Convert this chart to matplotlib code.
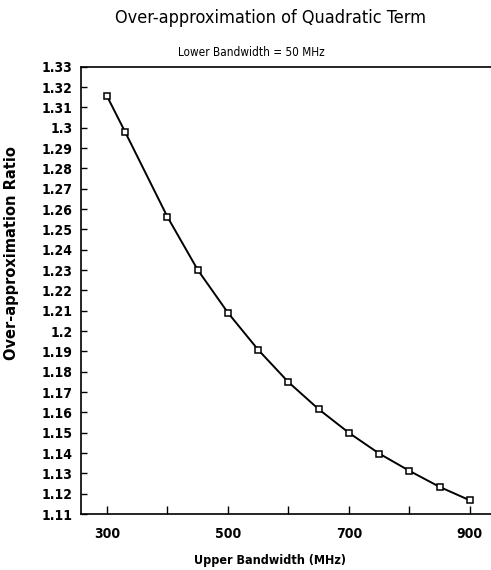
import matplotlib
matplotlib.use("Agg")
import matplotlib.pyplot as plt
from matplotlib import font_manager
from matplotlib.ticker import FixedLocator, FuncFormatter

# upper bandwidth (MHz) vs over-approximation ratio
upper_bw = [300, 330, 400, 450, 500, 550, 600, 650, 700, 750, 800, 850, 900]
ratio = [1.3155, 1.2979, 1.2561, 1.2301, 1.2090, 1.1908, 1.1749,
         1.1616, 1.1500, 1.1398, 1.1313, 1.1234, 1.1168]

x_ticks = [300, 400, 500, 600, 700, 800, 900]
x_labels = {300: "300", 500: "500", 700: "700", 900: "900"}
y_ticks = [round(1.11 + 0.01 * i, 2) for i in range(23)]


def narrow_font(weight):
    # look for any condensed / narrow face that is installed
    cands = []
    for f in font_manager.fontManager.ttflist:
        name = f.name.lower()
        path = f.fname.lower()
        if ("narrow" in name or "condensed" in name or "condensed" in path
                or "narrow" in path or f.stretch in ("condensed", "semi-condensed")):
            if "oblique" in path or "italic" in path:
                continue
            cands.append(f)
    for pref in ["liberation sans narrow", "dejavu sans", "roboto", "noto sans", "open sans"]:
        for f in cands:
            w = f.weight if isinstance(f.weight, int) else (700 if "bold" in str(f.weight) else 400)
            if pref in f.name.lower() and ((w >= 600) == (weight == "bold")):
                return font_manager.FontProperties(fname=f.fname)
    return font_manager.FontProperties(family="Liberation Sans", weight=weight)


fp_reg = narrow_font("normal")
fp_bold = narrow_font("bold")

fig = plt.figure(figsize=(4.91, 5.70), dpi=100)
ax = fig.add_axes([0.165, 0.098, 0.835, 0.785])

ax.plot(upper_bw, ratio, color="black", linewidth=1.4, marker="s",
        markersize=5, markerfacecolor="white", markeredgecolor="black",
        markeredgewidth=1.1)

ax.set_xlim(257, 935)
ax.set_ylim(1.11, 1.33)

ax.xaxis.set_major_locator(FixedLocator(x_ticks))
ax.xaxis.set_major_formatter(FuncFormatter(lambda v, p: x_labels.get(int(round(v)), "")))
ax.yaxis.set_major_locator(FixedLocator(y_ticks))
ax.yaxis.set_major_formatter(FuncFormatter(lambda v, p: ("%.2f" % v).rstrip("0").rstrip(".")))

ax.tick_params(axis="x", direction="in", length=6, width=1, pad=9)
ax.tick_params(axis="y", direction="in", length=4, width=1, pad=6)
fig.canvas.draw()
for lab in ax.get_xticklabels() + ax.get_yticklabels():
    lab.set_fontproperties(fp_bold)
    lab.set_fontsize(10)

ax.spines["right"].set_visible(False)
for s in ["left", "bottom", "top"]:
    ax.spines[s].set_linewidth(1.2)

ax.set_xlabel("Upper Bandwidth (MHz)", fontproperties=fp_bold, fontsize=9)
ax.xaxis.set_label_coords(0.461, -0.09)
ax.set_ylabel("Over-approximation Ratio", fontsize=10.5, fontweight="bold",
              family="DejaVu Sans")
ax.yaxis.set_label_coords(-0.151, 0.584)

fig.text(251 / 491, 1 - 53 / 570, "Lower Bandwidth = 50 MHz", fontproperties=fp_reg,
         fontsize=8.5, ha="center", va="center")
fig.text(0.55, 0.968, "Over-approximation of Quadratic Term", fontproperties=fp_reg,
         fontsize=13, ha="center", va="center")

fig.savefig("out.png", dpi=100)
